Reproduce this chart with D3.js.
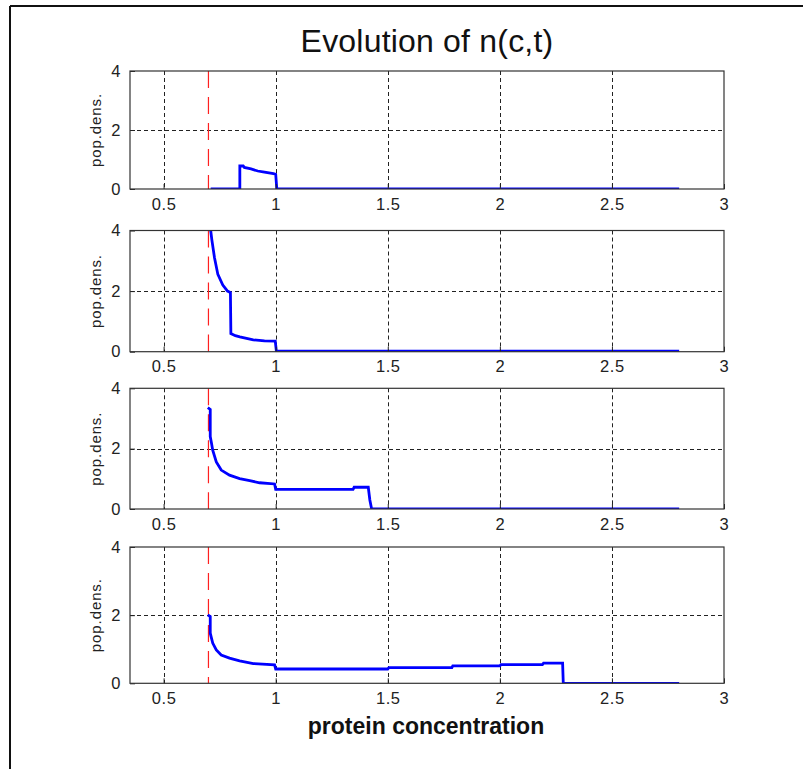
<!DOCTYPE html>
<html>
<head>
<meta charset="utf-8">
<script src="https://cdn.jsdelivr.net/npm/d3@7/dist/d3.min.js"></script>
<style>
  html, body { margin: 0; padding: 0; background: #fff; }
  svg { display: block; }
  text { font-family: "Liberation Sans", Arial, sans-serif; fill: #222; }
</style>
</head>
<body>
<script>
// ---------- data ----------
const titleText = "Evolution of n(c,t)";
const xLabelText = "protein concentration";
const yLabelText = "pop.dens.";
const xTicks = [0.5, 1, 1.5, 2, 2.5, 3];
const yTicks = [0, 2, 4];
const xDomain = [0.35, 3];
const yDomain = [0, 4];
const threshold = 0.7;

// population density snapshots, [concentration, density]
const snap1 = [[0.71,0],[0.84,0],[0.84,0.78],[0.855,0.78],[0.86,0.73],[0.89,0.68],[0.92,0.61],[0.95,0.57],[0.99,0.52],[1.0,0.5],[1.005,0],[2.8,0]];
const snap2 = [[0.705,4.3],[0.715,3.7],[0.727,3.1],[0.742,2.55],[0.764,2.2],[0.785,2.0],[0.798,1.95],[0.8,0.6],[0.82,0.53],[0.84,0.49],[0.87,0.44],[0.9,0.39],[0.95,0.36],[0.998,0.35],[1.003,0.02],[2.8,0.02]];
const snap3 = [[0.697,3.36],[0.708,3.3],[0.708,2.4],[0.713,2.2],[0.719,1.95],[0.735,1.56],[0.757,1.29],[0.794,1.12],[0.839,1.01],[0.884,0.94],[0.928,0.87],[0.995,0.83],[1.0,0.65],[1.345,0.65],[1.35,0.72],[1.413,0.72],[1.42,0.3],[1.428,0],[2.8,0]];
const snap4 = [[0.697,2.01],[0.708,1.96],[0.708,1.47],[0.719,1.18],[0.735,0.98],[0.757,0.83],[0.794,0.74],[0.839,0.66],[0.9,0.58],[0.995,0.54],[1.0,0.42],[1.5,0.42],[1.505,0.46],[1.786,0.46],[1.79,0.51],[2.0,0.51],[2.005,0.55],[2.19,0.55],[2.195,0.59],[2.28,0.59],[2.283,0],[2.8,0]];
const snapshots = [snap1, snap2, snap3, snap4];

// ---------- layout ----------
const W = 806, H = 769;
const left = 130, right = 724;
const panels = [
  {top: 71, bottom: 189},
  {top: 230.5, bottom: 351.7},
  {top: 388.3, bottom: 509},
  {top: 547, bottom: 683.3}
];

const svg = d3.select("body").append("svg").attr("width", W).attr("height", H);

// figure frame (left and top edges visible)
svg.append("line").attr("x1", 10).attr("y1", 6).attr("x2", 803).attr("y2", 6)
  .attr("stroke", "#111").attr("stroke-width", 2);
svg.append("line").attr("x1", 10).attr("y1", 6).attr("x2", 10).attr("y2", H)
  .attr("stroke", "#111").attr("stroke-width", 2);

const x = d3.scaleLinear().domain(xDomain).range([left, right]);

panels.forEach((p, i) => {
  const y = d3.scaleLinear().domain(yDomain).range([p.bottom, p.top]);
  const g = svg.append("g");

  g.append("clipPath").attr("id", "clip" + i)
    .append("rect").attr("x", left).attr("y", p.top).attr("width", right - left).attr("height", p.bottom - p.top);

  // grid lines
  g.selectAll(".vg").data(xTicks.filter(t => t > xDomain[0] && t < xDomain[1]))
    .join("line")
    .attr("x1", d => Math.round(x(d)) + 0.5).attr("x2", d => Math.round(x(d)) + 0.5)
    .attr("y1", p.top).attr("y2", p.bottom)
    .attr("stroke", "#222").attr("stroke-width", 1).attr("stroke-dasharray", "4,3");
  g.selectAll(".hg").data(yTicks.filter(t => t > yDomain[0] && t < yDomain[1]))
    .join("line")
    .attr("x1", left).attr("x2", right)
    .attr("y1", d => Math.round(y(d)) + 0.5).attr("y2", d => Math.round(y(d)) + 0.5)
    .attr("stroke", "#222").attr("stroke-width", 1).attr("stroke-dasharray", "4,3");

  // threshold
  g.append("line")
    .attr("x1", x(threshold)).attr("x2", x(threshold))
    .attr("y1", p.top).attr("y2", p.bottom)
    .attr("stroke", "#ff2020").attr("stroke-width", 1.2).attr("stroke-dasharray", "17,9");

  // density curve
  const line = d3.line().x(d => x(d[0])).y(d => y(d[1]));
  g.append("path").datum(snapshots[i])
    .attr("clip-path", `url(#clip${i})`)
    .attr("d", line)
    .attr("fill", "none").attr("stroke", "#0000ff").attr("stroke-width", 2.8)
    .attr("stroke-linejoin", "miter");

  // axes
  const xAxis = d3.axisBottom(x).tickValues(xTicks).tickSize(-5).tickPadding(9)
    .tickFormat(d3.format("~g"));
  const gx = g.append("g").attr("transform", `translate(0,${p.bottom})`).call(xAxis);
  const yAxis = d3.axisLeft(y).tickValues(yTicks).tickSize(-5).tickPadding(9)
    .tickFormat(d3.format("~g"));
  const gy = g.append("g").attr("transform", `translate(${left},0)`).call(yAxis);
  [gx, gy].forEach(a => {
    a.attr("font-size", null).attr("font-family", null);
    a.select(".domain").remove();
    a.selectAll(".tick line").attr("stroke", "#222");
    a.selectAll("text")
      .style("font-size", "16.5px").style("letter-spacing", "0.6px")
      .style("font-family", "'Liberation Sans', Arial, sans-serif").style("fill", "#222");
  });
  gx.selectAll("text").attr("dy", "0.71em");

  // box
  g.append("rect").attr("x", left).attr("y", p.top)
    .attr("width", right - left).attr("height", p.bottom - p.top)
    .attr("fill", "none").attr("stroke", "#333").attr("stroke-width", 1.2);

  // y label
  g.append("text")
    .attr("transform", `translate(101,${(p.top + p.bottom) / 2}) rotate(-90)`)
    .attr("text-anchor", "middle")
    .style("font-size", "15px").style("letter-spacing", "0.9px")
    .text(yLabelText);
});

// title
svg.append("text").attr("x", (left + right) / 2).attr("y", 52)
  .attr("text-anchor", "middle").style("font-size", "32px").style("letter-spacing", "0.2px")
  .style("fill", "#111")
  .text(titleText);

// x label
svg.append("text").attr("x", (left + right) / 2 - 1).attr("y", 734)
  .attr("text-anchor", "middle").style("font-size", "23px").attr("font-weight", "bold")
  .style("fill", "#111")
  .text(xLabelText);
</script>
</body>
</html>
